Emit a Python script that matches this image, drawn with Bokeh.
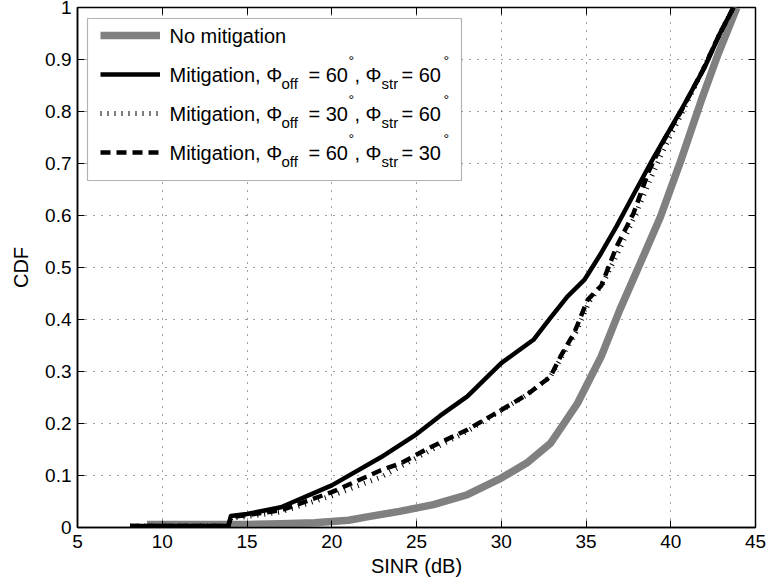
from bokeh.plotting import figure
from bokeh.models import (FixedTicker, LinearAxis, Range1d, Legend, LegendItem,
                          Label, BoxAnnotation)
from bokeh.embed import file_html
from bokeh.resources import INLINE

# ---------------- data ----------------
x_ticks = [5, 10, 15, 20, 25, 30, 35, 40, 45]
x_tick_labels = ["5", "10", "15", "20", "25", "30", "35", "40", "45"]
y_ticks = [0.0, 0.1, 0.2, 0.3, 0.4, 0.5, 0.6, 0.7, 0.8, 0.9, 1.0]
y_tick_labels = ["0", "0.1", "0.2", "0.3", "0.4", "0.5", "0.6", "0.7", "0.8", "0.9", "1"]

# No mitigation
sinr_none = [9.1, 13.9, 15.0, 17.0, 19.0, 21.0, 22.0, 24.0, 26.0, 28.0, 30.0, 31.5,
             32.9, 33.7, 34.5, 35.9, 37.0, 38.2, 39.4, 40.6, 41.8, 42.8, 43.9]
cdf_none = [0.006, 0.006, 0.006, 0.007, 0.009, 0.014, 0.02, 0.031, 0.044, 0.063, 0.095, 0.124,
            0.162, 0.20, 0.239, 0.329, 0.419, 0.508, 0.598, 0.706, 0.821, 0.911, 1.0]

# Mitigation, phi_off = 60, phi_str = 60
sinr_m6060 = [8.1, 13.9, 14.05, 15.0, 17.0, 20.0, 22.9, 24.9, 26.4, 28.0, 30.0, 31.9,
              32.9, 33.9, 34.9, 35.9, 36.8, 37.8, 39.0, 40.6, 42.0, 42.9, 43.7]
cdf_m6060 = [0.003, 0.003, 0.022, 0.026, 0.039, 0.081, 0.135, 0.177, 0.215, 0.252, 0.316, 0.361,
             0.403, 0.444, 0.476, 0.528, 0.579, 0.64, 0.712, 0.802, 0.885, 0.95, 1.0]

# Mitigation, phi_off = 30, phi_str = 60
sinr_m3060 = [8.1, 13.9, 14.05, 15.0, 17.0, 20.0, 22.9, 25.8, 28.0, 30.0, 31.5, 32.9,
              33.6, 34.4, 35.2, 36.0, 36.9, 37.9, 38.8, 39.7, 40.7, 41.9, 42.9, 43.7]
cdf_m3060 = [0.003, 0.003, 0.018, 0.021, 0.030, 0.061, 0.097, 0.148, 0.185, 0.225, 0.255, 0.29,
             0.33, 0.375, 0.435, 0.47, 0.53, 0.60, 0.67, 0.735, 0.80, 0.88, 0.95, 1.0]

# Mitigation, phi_off = 60, phi_str = 30
sinr_m6030 = [8.1, 13.9, 14.05, 15.0, 17.0, 20.0, 22.9, 24.1, 25.8, 28.0, 30.0, 31.5, 32.9,
              33.5, 34.3, 35.1, 35.9, 36.8, 37.8, 38.7, 39.6, 40.6, 41.9, 42.9, 43.7]
cdf_m6030 = [0.003, 0.003, 0.020, 0.024, 0.033, 0.068, 0.110, 0.124, 0.154, 0.188, 0.226, 0.255,
             0.290, 0.329, 0.374, 0.438, 0.465, 0.540, 0.604, 0.685, 0.745, 0.80, 0.88, 0.95, 1.0]

legend_first = "No mitigation"
phi_off_vals = ["60", "30", "60"]
phi_str_vals = ["60", "60", "30"]

# ---------------- layout ----------------
W, H = 767, 587
FL, FR, FT, FB = 77, 12, 7, 60
FW = W - FL - FR
FH = H - FT - FB
X0, X1 = 5, 45
Y0, Y1 = 0, 1
FONT = "Liberation Sans"


def px_x(px):
    return X0 + (px - FL) / FW * (X1 - X0)


def px_y(py):
    return Y1 - (py - FT) / FH * (Y1 - Y0)


p = figure(width=W, height=H, x_range=Range1d(X0, X1), y_range=Range1d(Y0, Y1),
           output_backend="svg", toolbar_location=None,
           min_border_left=FL, min_border_right=FR, min_border_top=FT, min_border_bottom=FB)

p.outline_line_color = "black"
p.outline_line_width = 1.5

for ax, ticks, labels in ((p.xaxis[0], x_ticks, x_tick_labels), (p.yaxis[0], y_ticks, y_tick_labels)):
    ax.ticker = FixedTicker(ticks=ticks)
    ax.major_label_overrides = {t: l for t, l in zip(ticks, labels)}
    ax.major_tick_in = 7
    ax.major_tick_out = 0
    ax.minor_tick_line_color = None
    ax.axis_line_width = 1.5
    ax.axis_line_color = "black"
    ax.major_tick_line_color = "black"
    ax.major_label_text_font = FONT
    ax.major_label_text_font_size = "19px"
    ax.major_label_text_color = "black"
    ax.axis_label_text_font = FONT
    ax.axis_label_text_font_size = "20px"
    ax.axis_label_text_font_style = "normal"
    ax.axis_label_text_color = "black"

p.xaxis.axis_label = "SINR (dB)"
p.yaxis.axis_label = "CDF"
p.xaxis.major_label_standoff = 7
p.xaxis.axis_label_standoff = 4
p.yaxis.major_label_standoff = 6
p.yaxis.axis_label_standoff = 10

# inward ticks on top and right
top_ax = LinearAxis(ticker=FixedTicker(ticks=x_ticks), major_tick_in=7, major_tick_out=0,
                    minor_tick_line_color=None, axis_line_color=None,
                    major_label_text_font_size="0px", major_label_standoff=0,
                    major_label_overrides={t: "" for t in x_ticks})
right_ax = LinearAxis(ticker=FixedTicker(ticks=y_ticks), major_tick_in=7, major_tick_out=0,
                      minor_tick_line_color=None, axis_line_color=None,
                      major_label_text_font_size="0px", major_label_standoff=0,
                      major_label_overrides={t: "" for t in y_ticks})
p.add_layout(top_ax, "above")
p.add_layout(right_ax, "right")

for g in (p.xgrid[0], p.ygrid[0]):
    g.grid_line_color = "#404040"
    g.grid_line_width = 1
    g.grid_line_dash = "1 7"
p.xgrid.ticker = FixedTicker(ticks=x_ticks)
p.ygrid.ticker = FixedTicker(ticks=y_ticks)

# ---------------- curves ----------------
r_none = p.line(sinr_none, cdf_none, line_color="#808080", line_width=7.5, line_join="round")
r_6060 = p.line(sinr_m6060, cdf_m6060, line_color="black", line_width=4.5, line_join="round")
r_3060 = p.line(sinr_m3060, cdf_m3060, line_color="black", line_width=5, line_dash="1 6",
                line_cap="butt")
r_6030 = p.line(sinr_m6030, cdf_m6030, line_color="black", line_width=4.5, line_dash="10 6",
                line_cap="butt")

# ---------------- legend ----------------
LEG_L, LEG_R, LEG_T, LEG_B = 87, 461, 18, 180
box = BoxAnnotation(left=px_x(LEG_L), right=px_x(LEG_R), top=px_y(LEG_T), bottom=px_y(LEG_B),
                    fill_color="white", fill_alpha=1.0, line_color="black", line_width=1.2)
p.add_layout(box)

MARGIN, ROWH, SPACING = 23, 10, 29
legend = Legend(items=[LegendItem(label=" ", renderers=[r]) for r in (r_none, r_6060, r_3060, r_6030)],
                location="top_left", margin=MARGIN, padding=0, spacing=SPACING,
                glyph_width=60, glyph_height=ROWH, label_height=ROWH, label_width=0,
                label_standoff=0, label_text_font_size="1px",
                border_line_color=None, background_fill_alpha=0)
p.add_layout(legend)

TXT_X = 169
row_centers = [FT + MARGIN + ROWH / 2 + i * (ROWH + SPACING) for i in range(4)]


def add_text(txt, px, py_mid, size):
    p.add_layout(Label(x=px_x(px), y=px_y(py_mid), text=txt, text_font=FONT,
                       text_font_size=size, text_color="black",
                       text_baseline="middle", text_align="left"))


add_text(legend_first, TXT_X, row_centers[0], "20px")
for i, (po, ps) in enumerate(zip(phi_off_vals, phi_str_vals)):
    mid = row_centers[i + 1]
    add_text("Mitigation, \u03a6", TXT_X, mid, "20px")
    add_text("off", TXT_X + 112, mid + 9, "15px")
    add_text("= " + po, TXT_X + 139, mid, "20px")
    add_text("\u00b0", TXT_X + 179, mid - 14, "14px")
    add_text(", \u03a6", TXT_X + 185, mid, "20px")
    add_text("str", TXT_X + 212, mid + 9, "15px")
    add_text("= " + ps, TXT_X + 232, mid, "20px")
    add_text("\u00b0", TXT_X + 274, mid - 14, "14px")

open("out.html", "w").write(file_html(p, INLINE))
